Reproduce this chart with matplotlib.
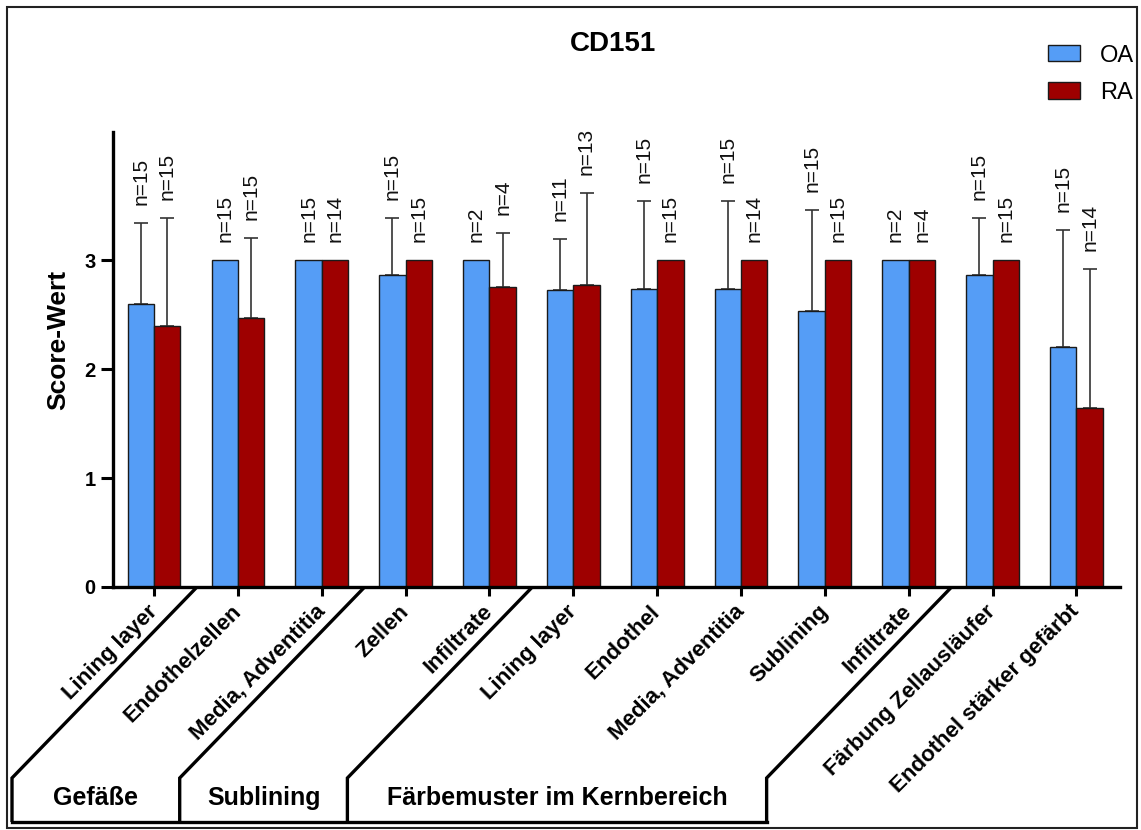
import matplotlib
matplotlib.use("Agg")
import matplotlib.pyplot as plt
import numpy as np
from matplotlib.lines import Line2D
from matplotlib.patches import Rectangle

plt.rcParams['font.family'] = ['Liberation Sans', 'DejaVu Sans']

# Kategorien (x-Achse)
categories = ["Lining layer", "Endothelzellen", "Media, Adventitia", "Zellen",
              "Infiltrate", "Lining layer", "Endothel", "Media, Adventitia",
              "Sublining", "Infiltrate", "Färbung Zellausläufer",
              "Endothel stärker gefärbt"]

# Mittelwerte
oa_mean = [2.600, 3.000, 3.000, 2.867, 3.000, 2.727, 2.733, 2.733, 2.533, 3.000, 2.867, 2.200]
ra_mean = [2.400, 2.467, 3.000, 3.000, 2.750, 2.769, 3.000, 3.000, 3.000, 3.000, 3.000, 1.643]

# Standardabweichung (nur obere Fehlerbalken)
oa_sd = [0.74, 0.00, 0.00, 0.52, 0.00, 0.47, 0.81, 0.81, 0.93, 0.00, 0.52, 1.08]
ra_sd = [0.99, 0.74, 0.00, 0.00, 0.50, 0.85, 0.00, 0.00, 0.00, 0.00, 0.00, 1.28]

# Fallzahlen
oa_n = [15, 15, 15, 15, 2, 11, 15, 15, 15, 2, 15, 15]
ra_n = [15, 15, 14, 15, 4, 13, 15, 14, 15, 4, 15, 14]

# Gruppenklammern unter der Achse: (Name, erste Kategorie, letzte Kategorie)
brackets = [("Gefäße", 1, 2), ("Sublining", 3, 4), ("Färbemuster im Kernbereich", 5, 9)]

OA_COLOR = '#559df6'
RA_COLOR = '#9e0000'
W, H = 1141, 830

fig = plt.figure(figsize=(W / 100, H / 100), dpi=100)
ax = fig.add_axes([113 / W, 1 - 587 / H, (1120 - 113) / W, (587 - 131.7) / H])

x = np.arange(len(categories))
bw = 0.315
ax.bar(x - bw / 2, oa_mean, bw, color=OA_COLOR, edgecolor='#1a1a1a', linewidth=1, label='OA', zorder=2)
ax.bar(x + bw / 2, ra_mean, bw, color=RA_COLOR, edgecolor='#1a1a1a', linewidth=1, label='RA', zorder=2)

for xs, m, sd in [(x - bw / 2, oa_mean, oa_sd), (x + bw / 2, ra_mean, ra_sd)]:
    m = np.array(m)
    sd = np.array(sd)
    has = sd > 0
    ax.errorbar(xs[has], m[has], yerr=[np.zeros(has.sum()), sd[has]], fmt='none',
                ecolor='#333333', elinewidth=1.2, capsize=5, capthick=1.2, zorder=1)

for xs, m, sd, n in [(x - bw / 2, oa_mean, oa_sd, oa_n), (x + bw / 2, ra_mean, ra_sd, ra_n)]:
    for xi, mi, si, ni in zip(xs, m, sd, n):
        ax.annotate(f"n={ni}", (xi, mi + si), xytext=(0, 13), textcoords='offset points',
                    rotation=90, ha='center', va='bottom', fontsize=15, color='#111111')

ax.set_xlim(-0.49, 11.52)
ax.set_ylim(0, 4.18)
ax.set_yticks([0, 1, 2, 3])
ax.set_yticklabels(['0', '1', '2', '3'], fontsize=14.5, fontweight='bold')
ax.set_xticks(x)
ax.set_xticklabels(categories, rotation=45, ha='right', va='center', rotation_mode='anchor',
                   fontsize=16, fontweight='bold')
ax.tick_params(axis='y', length=8.5, width=2.2, pad=4)
ax.tick_params(axis='x', length=6.5, width=2.2, pad=9)
for s in ['top', 'right']:
    ax.spines[s].set_visible(False)
for s in ['left', 'bottom']:
    ax.spines[s].set_linewidth(2.4)

fig.text(613 / W, 1 - 44 / H, "CD151", ha='center', va='center', fontsize=20, fontweight='bold')
fig.text(58 / W, 1 - 340 / H, "Score-Wert", ha='center', va='center', rotation=90,
         fontsize=19, fontweight='bold')

ax.legend(loc='upper left', bbox_to_anchor=(1048 / W, 1 - 44.5 / H), bbox_transform=fig.transFigure,
          frameon=False, fontsize=17, handlelength=1.36, handleheight=0.68, handletextpad=0.85,
          labelspacing=0.65, borderpad=0, borderaxespad=0)

# Klammern unter der x-Achse
inv = fig.transFigure.inverted()
bounds = [brackets[0][1] - 0.5] + [b[2] + 0.5 for b in brackets]
y_axis = 588
y_knee = 778
y_base = 822
dx = 184
feet = []
for b in bounds:
    xb = ax.transData.transform((b, 0))[0]
    xf = xb - dx
    feet.append(xf)
    pts = inv.transform([(xb, H - y_axis), (xf, H - y_knee), (xf, H - y_base)])
    fig.add_artist(Line2D(pts[:, 0], pts[:, 1], transform=fig.transFigure, color='black',
                          linewidth=2.4, solid_joinstyle='miter', solid_capstyle='butt'))
pts = inv.transform([(feet[0], H - y_base), (feet[-1], H - y_base)])
fig.add_artist(Line2D(pts[:, 0], pts[:, 1], transform=fig.transFigure, color='black',
                      linewidth=2.4, solid_capstyle='projecting'))
for (name, a, b), x0, x1 in zip(brackets, feet[:-1], feet[1:]):
    fig.text((x0 + x1) / 2 / W, 1 - 798 / H, name, ha='center', va='center',
             fontsize=18, fontweight='bold')

# Rahmen um die Grafik
fig.add_artist(Rectangle((7 / W, 1 - 828 / H), (1137 - 7) / W, (828 - 7) / H, transform=fig.transFigure,
                         fill=False, edgecolor='#222222', linewidth=1.5))

fig.savefig("out.png", dpi=100)
